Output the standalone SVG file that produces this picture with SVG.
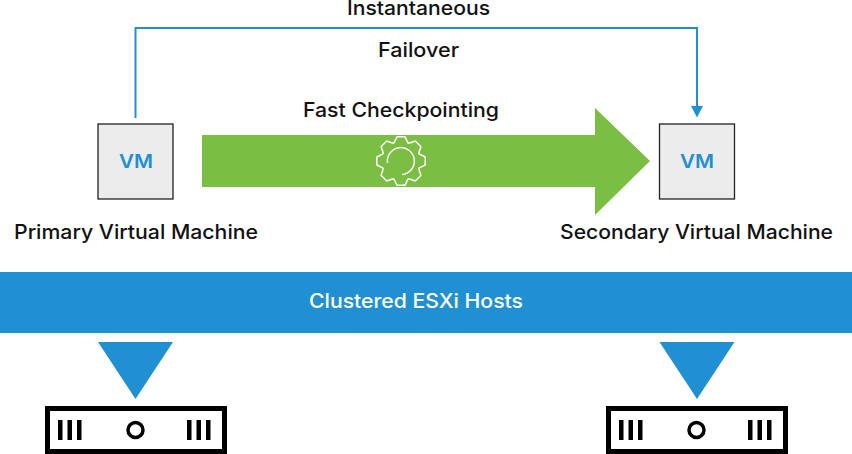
<svg xmlns="http://www.w3.org/2000/svg" width="852" height="454" viewBox="0 0 852 454">
<style>
text{font-family:"Inter","Liberation Sans",sans-serif;font-weight:500;font-size:20px;fill:#111;text-anchor:middle}
.vmbox{fill:#ececec;stroke:#222;stroke-width:1.3}
.vmt{fill:#2190d3;font-size:19px;font-weight:600}
.tri{fill:#2190d3}
.host{fill:#fff;stroke:#000;stroke-width:5}
.bar{fill:#000}
.gear{fill:none;stroke:#fff;stroke-width:1.5;stroke-linejoin:round}
</style>
<defs>
<path id="tooth" class="gear" d="M-7.4-17.6-6.2-19.6-4-24.2H4L6.2-19.6 7.4-17.6"/>
<g id="hostshape">
<rect class="host" x="47.500" y="408.500" width="177" height="43"/>
<rect class="bar" x="58" y="420" width="4.500" height="20"/><rect class="bar" x="67.500" y="420" width="4.500" height="20"/><rect class="bar" x="77" y="420" width="4.500" height="20"/>
<circle cx="135.500" cy="430" r="7.500" fill="none" stroke="#000" stroke-width="3.500"/>
<rect class="bar" x="187" y="420" width="4.500" height="20"/><rect class="bar" x="196.500" y="420" width="4.500" height="20"/><rect class="bar" x="206" y="420" width="4.500" height="20"/>
</g>
</defs>
<rect width="852" height="454" fill="#fff"/>
<g id="connectors">
<path d="M135.500 118V28H697V110" fill="none" stroke="#2190d3" stroke-width="2"/>
<path d="M691 106H703L697 117.500Z" fill="#2190d3"/>
</g>
<text x="418.500" y="15" textLength="143" lengthAdjust="spacingAndGlyphs">Instantaneous</text>
<text x="418.500" y="57" textLength="81" lengthAdjust="spacingAndGlyphs">Failover</text>
<text x="401" y="117" textLength="196" lengthAdjust="spacingAndGlyphs">Fast Checkpointing</text>
<g id="checkpoint-arrow">
<path d="M202 135H595V108L650 161 595 215V187H202Z" fill="#7abf43"/>
<g transform="translate(401 161)">
<use href="#tooth"/><use href="#tooth" transform="rotate(45)"/><use href="#tooth" transform="rotate(90)"/><use href="#tooth" transform="rotate(135)"/><use href="#tooth" transform="rotate(180)"/><use href="#tooth" transform="rotate(225)"/><use href="#tooth" transform="rotate(270)"/><use href="#tooth" transform="rotate(315)"/>
<path class="gear" d="M-13.500 2A13.500 13.500 0 1 1 1 13.500"/>
</g>
</g>
<g id="primary-vm">
<rect class="vmbox" x="98" y="124" width="75" height="75"/>
<text class="vmt" x="136" y="167.500" textLength="34" lengthAdjust="spacingAndGlyphs">VM</text>
<text x="136" y="239" textLength="244" lengthAdjust="spacingAndGlyphs">Primary Virtual Machine</text>
</g>
<g id="secondary-vm">
<rect class="vmbox" x="659.500" y="124" width="75" height="75"/>
<text class="vmt" x="697" y="167.500" textLength="34" lengthAdjust="spacingAndGlyphs">VM</text>
<text x="696.500" y="239" textLength="273" lengthAdjust="spacingAndGlyphs">Secondary Virtual Machine</text>
</g>
<g id="esxi-hosts">
<rect x="0" y="272" width="852" height="61" fill="#2190d3"/>
<text x="416" y="308" textLength="214" lengthAdjust="spacingAndGlyphs" style="fill:#fff">Clustered ESXi Hosts</text>
</g>
<g id="host-left">
<path class="tri" d="M98 342H173L135.500 399Z"/>
<use href="#hostshape"/>
</g>
<g id="host-right">
<path class="tri" d="M659.500 342H734.500L697 399Z"/>
<use href="#hostshape" x="561"/>
</g>
</svg>
